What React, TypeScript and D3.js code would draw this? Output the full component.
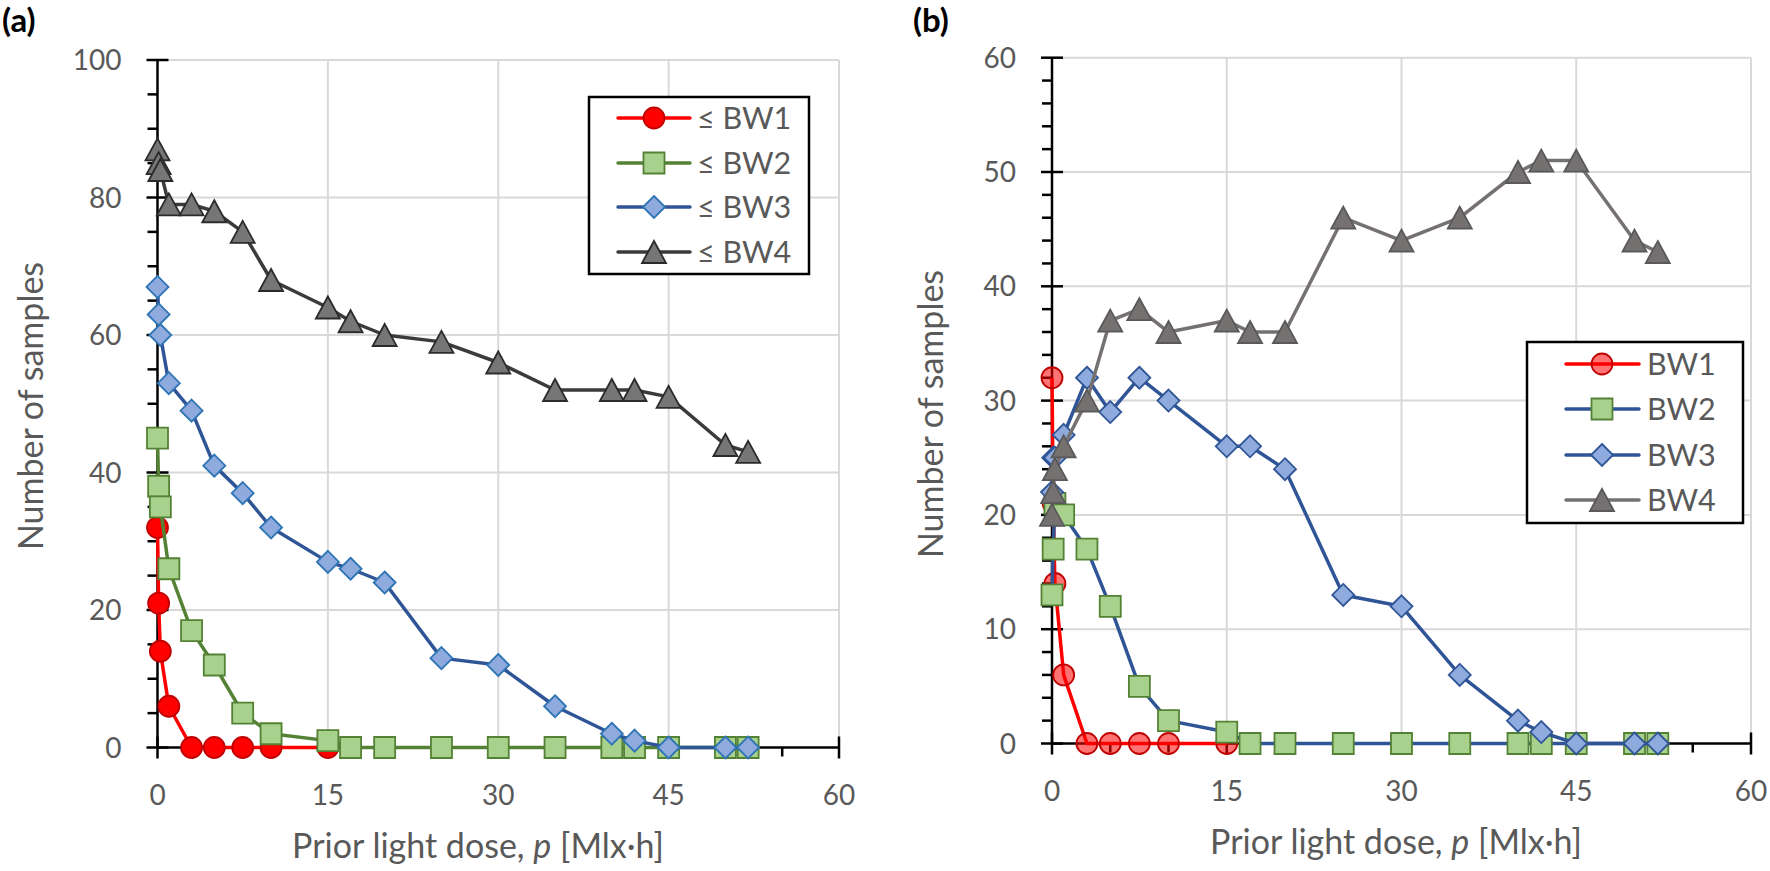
import { useEffect } from "react";
import * as d3 from "d3";

// prior light dose values (Mlx·h) at which samples were counted
const DOSE = [0, 0.1, 0.25, 1, 3, 5, 7.5, 10, 15, 17, 20, 25, 30, 35, 40, 42, 45, 50, 52];
const X_TICKS = [0, 15, 30, 45, 60];

// (a) cumulative counts
const A_LE_BW1 = [32, 21, 14, 6, 0, 0, 0, 0, 0];
const A_LE_BW2 = [45, 38, 35, 26, 17, 12, 5, 2, 1, 0, 0, 0, 0, 0, 0, 0, 0, 0, 0];
const A_LE_BW3 = [67, 63, 60, 53, 49, 41, 37, 32, 27, 26, 24, 13, 12, 6, 2, 1, 0, 0, 0];
const A_LE_BW4 = [87, 85, 84, 79, 79, 78, 75, 68, 64, 62, 60, 59, 56, 52, 52, 52, 51, 44, 43];

// (b) counts per class
const B_BW1 = [32, 21, 14, 6, 0, 0, 0, 0, 0];
const B_BW2 = [13, 17, 21, 20, 17, 12, 5, 2, 1, 0, 0, 0, 0, 0, 0, 0, 0, 0, 0];
const B_BW3 = [22, 25, 25, 27, 32, 29, 32, 30, 26, 26, 24, 13, 12, 6, 2, 1, 0, 0, 0];
const B_BW4 = [20, 22, 24, 26, 30, 37, 38, 36, 37, 36, 36, 46, 44, 46, 50, 51, 51, 44, 43];

const FONT = "Lato, 'Noto Sans', 'DejaVu Sans', sans-serif";
const TEXT = "#595959";
const GRID = "#d9d9d9";

type Shape = "circle" | "square" | "diamond" | "triangle";

interface Series {
  label: string;
  values: number[];
  line: string;
  fill: string;
  stroke: string;
  shape: Shape;
}

function markerPath(shape: Shape): string {
  if (shape === "circle") {
    const p = d3.path();
    p.arc(0, 0, 10.5, 0, 2 * Math.PI);
    p.closePath();
    return p.toString();
  }
  if (shape === "square") return "M-10.5,-10.5H10.5V10.5H-10.5Z";
  if (shape === "diamond") return "M0,-11L11,0L0,11L-11,0Z";
  return "M0,-11L12,11H-12Z";
}

interface LegendCfg {
  x: number;
  y: number;
  w: number;
  h: number;
  rows: number[];
  lineX0: number;
  lineX1: number;
  markX: number;
  textX: number;
}

interface PanelProps {
  tag: string;
  tagX: number;
  x0: number;
  x1: number;
  yTop: number;
  yBot: number;
  yMax: number;
  yStep: number;
  yMinor: number;
  yTitleX: number;
  yTitleY: number;
  xTitleX: number;
  series: Series[];
  legend: LegendCfg;
}

function Panel(p: PanelProps) {
  const x = d3.scaleLinear().domain([0, 60]).range([p.x0, p.x1]);
  const y = d3.scaleLinear().domain([0, p.yMax]).range([p.yBot, p.yTop]);
  const yMajor = d3.range(0, p.yMax + 0.001, p.yStep);
  const yMinor = d3.range(0, p.yMax + 0.001, p.yMinor).filter((v) => !yMajor.includes(v));
  const xMinor = d3.range(0, 60.001, 5).filter((v) => !X_TICKS.includes(v));

  const line = d3
    .line<number>()
    .x((_, i) => x(DOSE[i]))
    .y((d) => y(d));

  return (
    <g>
      <text x={p.tagX} y={32} fontFamily={FONT} fontWeight={700} fontSize={33} fill="#000">
        {p.tag}
      </text>

      {/* gridlines */}
      {yMajor
        .filter((v) => v > 0)
        .map((v) => (
          <line key={"gy" + v} x1={p.x0} x2={p.x1} y1={y(v)} y2={y(v)} stroke={GRID} strokeWidth={2} />
        ))}
      {X_TICKS.filter((v) => v > 0).map((v) => (
        <line key={"gx" + v} x1={x(v)} x2={x(v)} y1={p.yTop} y2={p.yBot} stroke={GRID} strokeWidth={2} />
      ))}

      {/* axes */}
      <line x1={p.x0} x2={p.x0} y1={p.yTop} y2={p.yBot} stroke="#000" strokeWidth={2.5} />
      <line x1={p.x0} x2={p.x1} y1={p.yBot} y2={p.yBot} stroke="#000" strokeWidth={2.5} />
      {yMajor.map((v) => (
        <line key={"ty" + v} x1={p.x0 - 11} x2={p.x0 + 11} y1={y(v)} y2={y(v)} stroke="#000" strokeWidth={2.5} />
      ))}
      {yMinor.map((v) => (
        <line key={"my" + v} x1={p.x0 - 10} x2={p.x0} y1={y(v)} y2={y(v)} stroke="#000" strokeWidth={2.5} />
      ))}
      {X_TICKS.map((v) => (
        <line key={"tx" + v} x1={x(v)} x2={x(v)} y1={p.yBot - 11} y2={p.yBot + 11} stroke="#000" strokeWidth={2.5} />
      ))}
      {xMinor.map((v) => (
        <line key={"mx" + v} x1={x(v)} x2={x(v)} y1={p.yBot} y2={p.yBot + 9} stroke="#000" strokeWidth={2.5} />
      ))}

      {/* tick labels */}
      {yMajor.map((v) => (
        <text
          key={"ly" + v}
          x={p.x0 - 36}
          y={y(v)}
          dy="0.36em"
          textAnchor="end"
          fontFamily={FONT}
          fontSize={28}
          fill={TEXT}
        >
          {v}
        </text>
      ))}
      {X_TICKS.map((v) => (
        <text key={"lx" + v} x={x(v)} y={p.yBot + 57} textAnchor="middle" fontFamily={FONT} fontSize={28} fill={TEXT}>
          {v}
        </text>
      ))}

      {/* axis titles */}
      <text x={p.xTitleX} y={p.yBot + 110} textAnchor="middle" fontFamily={FONT} fontSize={34} fill={TEXT}>
        Prior light dose, <tspan fontStyle="italic">p</tspan> [Mlx·h]
      </text>
      <text
        transform={`translate(${p.yTitleX},${p.yTitleY}) rotate(-90)`}
        textAnchor="middle"
        fontFamily={FONT}
        fontSize={34}
        fill={TEXT}
      >
        Number of samples
      </text>

      {/* series */}
      {p.series.map((s) => (
        <g key={s.label}>
          <path d={line(s.values) ?? ""} fill="none" stroke={s.line} strokeWidth={3.5} strokeLinejoin="round" />
          {s.values.map((v, i) => (
            <path
              key={i}
              d={markerPath(s.shape)}
              transform={`translate(${x(DOSE[i])},${y(v)})`}
              fill={s.fill}
              stroke={s.stroke}
              strokeWidth={1.8}
            />
          ))}
        </g>
      ))}

      {/* legend */}
      <rect
        x={p.legend.x}
        y={p.legend.y}
        width={p.legend.w}
        height={p.legend.h}
        fill="#fff"
        stroke="#000"
        strokeWidth={2.5}
      />
      {p.series.map((s, i) => {
        const ry = p.legend.y + p.legend.rows[i];
        return (
          <g key={"lg" + s.label}>
            <line
              x1={p.legend.x + p.legend.lineX0}
              x2={p.legend.x + p.legend.lineX1}
              y1={ry}
              y2={ry}
              stroke={s.line}
              strokeWidth={3.5}
              strokeLinecap="round"
            />
            <path
              d={markerPath(s.shape)}
              transform={`translate(${p.legend.x + p.legend.markX},${ry})`}
              fill={s.fill}
              stroke={s.stroke}
              strokeWidth={1.8}
            />
            <text
              x={p.legend.x + p.legend.textX}
              y={ry}
              dy="0.36em"
              fontFamily={FONT}
              fontSize={30.5}
              fill={TEXT}
            >
              {s.label}
            </text>
          </g>
        );
      })}
    </g>
  );
}

const SERIES_A: Series[] = [
  { label: "≤ BW1", values: A_LE_BW1, line: "#ff0000", fill: "#ff0000", stroke: "#c00000", shape: "circle" },
  { label: "≤ BW2", values: A_LE_BW2, line: "#548235", fill: "#a9d18e", stroke: "#548235", shape: "square" },
  { label: "≤ BW3", values: A_LE_BW3, line: "#2f5597", fill: "#8faadc", stroke: "#2e75b6", shape: "diamond" },
  { label: "≤ BW4", values: A_LE_BW4, line: "#3b3b3b", fill: "#767676", stroke: "#2b2b2b", shape: "triangle" },
];

const SERIES_B: Series[] = [
  { label: "BW1", values: B_BW1, line: "#ff0000", fill: "rgba(255,0,0,0.55)", stroke: "#c00000", shape: "circle" },
  { label: "BW2", values: B_BW2, line: "#2f5597", fill: "#a9d18e", stroke: "#548235", shape: "square" },
  { label: "BW3", values: B_BW3, line: "#2f5597", fill: "#8faadc", stroke: "#2f5597", shape: "diamond" },
  { label: "BW4", values: B_BW4, line: "#767171", fill: "#767171", stroke: "#595959", shape: "triangle" },
];

export default function App() {
  useEffect(() => {
    document.body.style.margin = "0";
  }, []);

  return (
    <svg width={1770} height={871} style={{ display: "block", background: "#fff" }}>
      <Panel
        tag="(a)"
        tagX={2}
        x0={157.5}
        x1={839}
        yTop={60}
        yBot={747.5}
        yMax={100}
        yStep={20}
        yMinor={5}
        yTitleX={43}
        yTitleY={406}
        xTitleX={478}
        series={SERIES_A}
        legend={{ x: 589, y: 97, w: 220, h: 177, rows: [21, 66, 110, 155], lineX0: 29, lineX1: 101, markX: 65, textX: 108 }}
      />
      <Panel
        tag="(b)"
        tagX={913}
        x0={1052}
        x1={1751}
        yTop={57.7}
        yBot={743.5}
        yMax={60}
        yStep={10}
        yMinor={2}
        yTitleX={943}
        yTitleY={414}
        xTitleX={1396}
        series={SERIES_B}
        legend={{ x: 1527, y: 342, w: 216, h: 181, rows: [22, 67, 113, 158], lineX0: 39, lineX1: 112, markX: 75, textX: 120 }}
      />
    </svg>
  );
}
